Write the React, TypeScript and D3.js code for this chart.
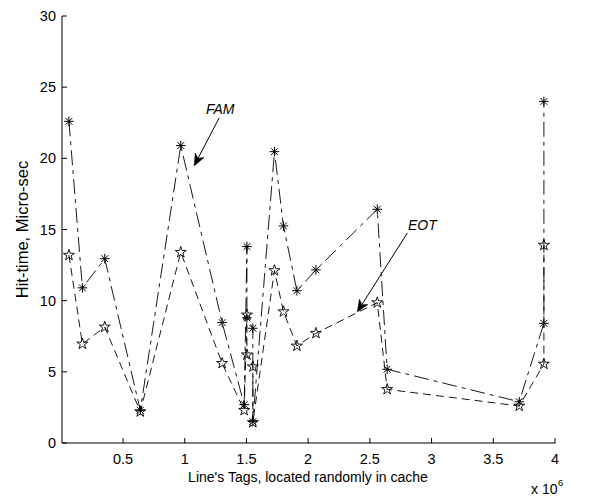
import React from "react";
import * as d3 from "d3";

// x values in units of 10^6
const tags = [0.062, 0.171, 0.352, 0.64, 0.968, 1.303, 1.482, 1.504, 1.504, 1.552, 1.552, 1.727, 1.8, 1.909, 2.063, 2.56, 2.64, 3.71, 3.91, 3.91];
const famTime = [22.6, 10.9, 12.95, 2.3, 20.9, 8.46, 2.7, 13.8, 8.8, 8.06, 1.5, 20.47, 15.25, 10.7, 12.16, 16.42, 5.18, 2.9, 8.41, 24.0];
const eotTime = [13.2, 6.96, 8.15, 2.2, 13.4, 5.6, 2.3, 9.0, 6.2, 5.36, 1.45, 12.12, 9.23, 6.82, 7.71, 9.86, 3.77, 2.6, 5.55, 13.9];

const yTicks = [0, 5, 10, 15, 20, 25, 30];
const xTicks = [0.5, 1, 1.5, 2, 2.5, 3, 3.5, 4];
const xLabel = "Line's Tags, located randomly in cache";
const yLabel = "Hit-time, Micro-sec";

// annotation anchors in data units
const famNote = { label: "FAM", tail: [1.279, 22.84], tip: [1.076, 19.47], text: [1.287, 23.1] };
const eotNote = { label: "EOT", tail: [2.804, 14.76], tip: [2.398, 9.21], text: [2.925, 14.97] };

const W = 612;
const H = 497;
const FONT = "'Liberation Sans', Arial, sans-serif";
const FS = 14;
const TICK_FS = 14.5;
const YLAB_FS = 16.5;

const x = d3.scaleLinear().domain([0, 4]).range([61.3, 555]);
const y = d3.scaleLinear().domain([0, 30]).range([443, 16]);

function asterisk(cx: number, cy: number) {
  const r = 4.8;
  const d = 3.4;
  return `M${cx - r},${cy}H${cx + r}M${cx},${cy - r}V${cy + r}M${cx - d},${cy - d}L${cx + d},${cy + d}M${cx - d},${cy + d}L${cx + d},${cy - d}`;
}

const star = d3.symbol().type(d3.symbolStar).size(38)();

function Arrow({ note }: { note: typeof famNote }) {
  const tx = x(note.tail[0]);
  const ty = y(note.tail[1]);
  const px = x(note.tip[0]);
  const py = y(note.tip[1]);
  const dx = px - tx;
  const dy = py - ty;
  const len = Math.hypot(dx, dy);
  const ux = dx / len;
  const uy = dy / len;
  const nx = -uy;
  const ny = ux;
  const L = 12;
  const w = 5;
  const notch = 3.5;
  const bx = px - L * ux;
  const by = py - L * uy;
  const mx = px - (L - notch) * ux;
  const my = py - (L - notch) * uy;
  const head = `M${px},${py}L${bx + w * nx},${by + w * ny}L${mx},${my}L${bx - w * nx},${by - w * ny}Z`;
  return (
    <g>
      <line x1={tx} y1={ty} x2={mx} y2={my} stroke="#000" strokeWidth={1} />
      <path d={head} fill="#000" stroke="#000" strokeWidth={0.5} />
    </g>
  );
}

export default function App() {
  const famPts = tags.map((t, i) => [t, famTime[i]] as [number, number]);
  const eotPts = tags.map((t, i) => [t, eotTime[i]] as [number, number]);
  const line = d3
    .line<[number, number]>()
    .x((d) => x(d[0]))
    .y((d) => y(d[1]));

  return (
    <div style={{ position: "absolute", left: 0, top: 0 }}>
      <svg width={W} height={H} style={{ display: "block", background: "#fff" }} fontFamily={FONT}>
        <rect width={W} height={H} fill="#fff" />
        <line x1={62} y1={16} x2={62} y2={443} stroke="#000" strokeWidth={1} />
        <line x1={62} y1={443} x2={555.5} y2={443} stroke="#000" strokeWidth={1} />
        {yTicks.map((t) => (
          <g key={"y" + t}>
            <line x1={62} x2={67} y1={y(t)} y2={y(t)} stroke="#000" strokeWidth={1} />
            <text x={56} y={y(t) + 5} textAnchor="end" fontSize={TICK_FS} fill="#000">
              {t}
            </text>
          </g>
        ))}
        {xTicks.map((t) => (
          <g key={"x" + t}>
            <line x1={x(t)} x2={x(t)} y1={443} y2={438} stroke="#000" strokeWidth={1} />
            <text x={x(t)} y={464} textAnchor="middle" fontSize={TICK_FS} fill="#000">
              {t}
            </text>
          </g>
        ))}
        <text x={308} y={482} textAnchor="middle" fontSize={FS} fill="#000">
          {xLabel}
        </text>
        <text x={531} y={494} fontSize={FS} fill="#000">
          x 10
        </text>
        <text x={558} y={486} fontSize={9.5} fill="#000">
          6
        </text>
        <text
          transform={`translate(27.5,${(16 + 443) / 2}) rotate(-90)`}
          textAnchor="middle"
          fontSize={YLAB_FS}
          fill="#000"
        >
          {yLabel}
        </text>

        <path d={line(famPts) || ""} fill="none" stroke="#000" strokeWidth={0.9} strokeDasharray="15,5,4,5" />
        <path d={line(eotPts) || ""} fill="none" stroke="#000" strokeWidth={0.9} strokeDasharray="8,5" />

        {eotPts.map((d, i) => (
          <path key={"e" + i} d={star || ""} transform={`translate(${x(d[0])},${y(d[1])})`} fill="none" stroke="#000" strokeWidth={0.9} />
        ))}
        {famPts.map((d, i) => (
          <path key={"f" + i} d={asterisk(x(d[0]), y(d[1]))} fill="none" stroke="#000" strokeWidth={1} />
        ))}

        <Arrow note={famNote} />
        <Arrow note={eotNote} />
        <text x={x(famNote.text[0])} y={y(famNote.text[1])} textAnchor="middle" fontSize={FS} fontStyle="italic" fill="#000">
          {famNote.label}
        </text>
        <text x={x(eotNote.text[0])} y={y(eotNote.text[1])} textAnchor="middle" fontSize={FS} fontStyle="italic" fill="#000">
          {eotNote.label}
        </text>
      </svg>
    </div>
  );
}
